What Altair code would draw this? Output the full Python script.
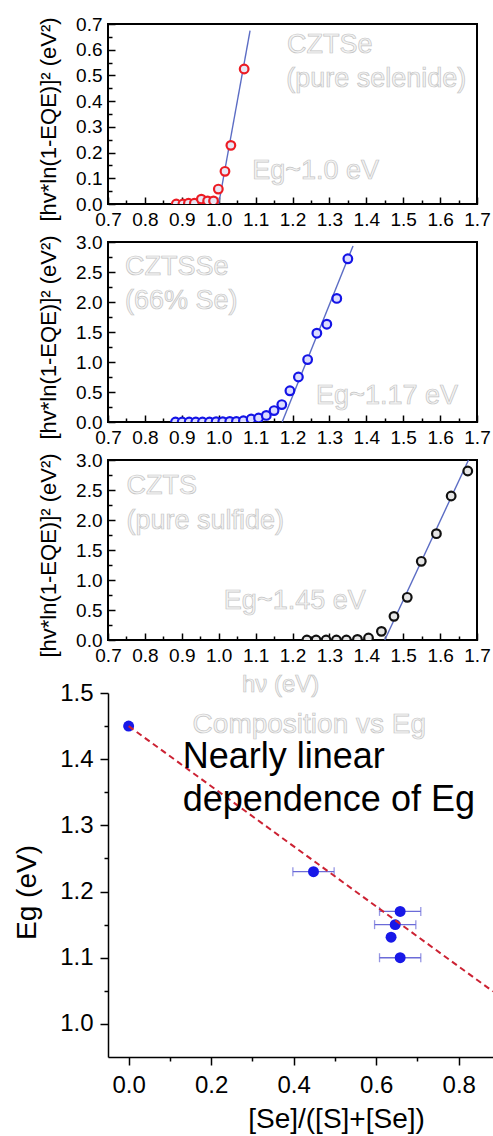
import altair as alt
import pandas as pd

FONT = "Liberation Sans"

# ---------------- data ----------------
# Panel 1: CZTSe (pure selenide)
se_hv = [0.885, 0.903, 0.918, 0.934, 0.953, 0.970, 0.986, 0.999, 1.017, 1.033, 1.069]
se_val = [0.0, 0.0, 0.003, 0.003, 0.019, 0.012, 0.012, 0.058, 0.127, 0.228, 0.525]
se_fit_hv = [1.0, 1.085]
se_fit_val = [0.0, 0.674]

# Panel 2: CZTSSe (66% Se)
ss_hv = [0.883, 0.901, 0.920, 0.938, 0.956, 0.975, 0.993, 1.011, 1.030, 1.048,
         1.067, 1.088, 1.108, 1.129, 1.150, 1.171, 1.193, 1.216, 1.241, 1.266,
         1.293, 1.320, 1.350]
ss_val = [0.0, 0.0, 0.0, 0.0, 0.0, 0.0, 0.005, 0.005, 0.01, 0.01,
          0.02, 0.05, 0.066, 0.11, 0.19, 0.29, 0.52, 0.75, 1.04, 1.48,
          1.63, 2.06, 2.72]
ss_fit_hv = [1.172, 1.364]
ss_fit_val = [0.0, 2.934]

# Panel 3: CZTS (pure sulfide)
s_hv = [1.239, 1.264, 1.291, 1.319, 1.346, 1.376, 1.406, 1.441, 1.475, 1.511,
        1.549, 1.590, 1.630, 1.675]
s_val = [0.0, 0.0, 0.0, 0.0, 0.0, 0.01, 0.033, 0.144, 0.394, 0.711,
         1.311, 1.772, 2.40, 2.817]
s_fit_hv = [1.450, 1.677]
s_fit_val = [0.0, 3.0]

# Panel 4: composition vs Eg
se_frac = [0.0, 0.448, 0.658, 0.646, 0.636, 0.658]
eg_vals = [1.45, 1.23, 1.17, 1.15, 1.131, 1.10]
frac_err = [0.0, 0.05, 0.05, 0.05, 0.0, 0.05]
trend_frac = [0.0, 0.883]
trend_eg = [1.45, 1.049]

# tick values
hv_major = [0.7, 0.8, 0.9, 1.0, 1.1, 1.2, 1.3, 1.4, 1.5, 1.6, 1.7]
hv_minor = [0.75, 0.85, 0.95, 1.05, 1.15, 1.25, 1.35, 1.45, 1.55, 1.65]
y1_major = [0.0, 0.1, 0.2, 0.3, 0.4, 0.5, 0.6, 0.7]
y1_minor = [0.05, 0.15, 0.25, 0.35, 0.45, 0.55, 0.65]
y3_major = [0.0, 0.5, 1.0, 1.5, 2.0, 2.5, 3.0]
y3_minor = [0.25, 0.75, 1.25, 1.75, 2.25, 2.75]
frac_major = [0.0, 0.2, 0.4, 0.6, 0.8]
frac_minor = [0.1, 0.3, 0.5, 0.7]
eg_major = [1.0, 1.1, 1.2, 1.3, 1.4, 1.5]
eg_minor = [1.05, 1.15, 1.25, 1.35, 1.45]

# annotations (text, anchor in data units)
p1_text = ["CZTSe", "(pure selenide)", "Eg~1.0 eV"]
p1_tx = [1.185, 1.183, 1.091]
p1_ty = [0.587, 0.454, 0.097]
p2_text = ["CZTSSe", "(66% Se)", "Eg~1.17 eV"]
p2_tx = [0.746, 0.746, 1.264]
p2_ty = [2.447, 1.883, 0.307]
p3_text = ["CZTS", "(pure sulfide)", "Eg~1.45 eV"]
p3_tx = [0.750, 0.750, 1.014]
p3_ty = [2.428, 1.857, 0.523]
hv_title = ["hν (eV)"]
hv_tx = [1.063]
hv_ty = [-0.867]
p4_text = ["Composition vs Eg"]
p4_tx = [0.155]
p4_ty = [1.4395]
p4_note = ["Nearly linear", "dependence of Eg"]
p4_nx = [0.131, 0.131]
p4_ny = [1.387, 1.3222]

YTITLE = "[hv*ln(1-EQE)]² (eV²)"
PW, PH = 369, 180
GRAY_FILL = "#f4f4f4"
GRAY_STROKE = "#c4c4c4"
GRAY_W = 0.7


def gray_text(df, xs, ys, size):
    return alt.Chart(df).mark_text(
        align="left", baseline="alphabetic", fontSize=size, font=FONT,
        fill=GRAY_FILL, stroke=GRAY_STROKE, strokeWidth=GRAY_W
    ).encode(x=alt.X("x:Q", scale=xs, axis=None),
             y=alt.Y("y:Q", scale=ys, axis=None),
             text="t:N")


def spectrum_panel(hv, val, fit_hv, fit_val, stroke, fill, ymax, ymaj, ymin,
                   texts, tx, ty, extra=None):
    pts = pd.DataFrame({"hv": hv, "v": val})
    fit = pd.DataFrame({"hv": fit_hv, "v": fit_val})
    ann = pd.DataFrame({"x": tx, "y": ty, "t": texts})
    xs = alt.Scale(domain=[0.7, 1.7], nice=False, zero=False)
    ys = alt.Scale(domain=[0, ymax], nice=False, zero=False)

    x_major = alt.Axis(orient="bottom", values=hv_major, format=".1f", title=None,
                       grid=False, domain=False, tickSize=alt.ExprRef("-7"),
                       tickWidth=1.5, labelFontSize=19, labelPadding=13,
                       labelFlush=False)
    y_major = alt.Axis(orient="left", values=ymaj, format=".1f", title=YTITLE,
                       grid=False, domain=False, tickSize=alt.ExprRef("-7"),
                       tickWidth=1.5, labelFontSize=19, labelPadding=13,
                       titleFontSize=22, titleFontWeight="normal", titlePadding=15,
                       titleY=95, labelFlush=False)
    x_minor = alt.Axis(orient="bottom", values=hv_minor, labels=False, title=None,
                       grid=False, domain=False, tickSize=alt.ExprRef("-4"),
                       tickWidth=1.5)
    y_minor = alt.Axis(orient="left", values=ymin, labels=False, title=None,
                       grid=False, domain=False, tickSize=alt.ExprRef("-4"),
                       tickWidth=1.5)

    points = alt.Chart(pts).mark_point(
        shape="circle", filled=True, fill=fill, stroke=stroke, strokeWidth=2.2,
        size=75, opacity=1, clip=True
    ).encode(x=alt.X("hv:Q", scale=xs, axis=x_major),
             y=alt.Y("v:Q", scale=ys, axis=y_major))
    line = alt.Chart(fit).mark_line(color="#5b6cc4", strokeWidth=1.4).encode(
        x=alt.X("hv:Q", scale=xs, axis=x_minor),
        y=alt.Y("v:Q", scale=ys, axis=y_minor))
    layers = [line, points, gray_text(ann, xs, ys, 27)]
    if extra is not None:
        layers.append(gray_text(extra, xs, ys, 24))
    return alt.layer(*layers).resolve_axis(
        x="independent", y="independent").properties(width=PW, height=PH)


p1 = spectrum_panel(se_hv, se_val, se_fit_hv, se_fit_val, "#ec1c24", "#e8e8f6",
                    0.7, y1_major, y1_minor, p1_text, p1_tx, p1_ty)
p2 = spectrum_panel(ss_hv, ss_val, ss_fit_hv, ss_fit_val, "#1414e6", "#dcdcff",
                    3.0, y3_major, y3_minor, p2_text, p2_tx, p2_ty)
p3 = spectrum_panel(s_hv, s_val, s_fit_hv, s_fit_val, "#111111", "#e6e6e6",
                    3.0, y3_major, y3_minor, p3_text, p3_tx, p3_ty,
                    extra=pd.DataFrame({"x": hv_tx, "y": hv_ty, "t": hv_title}))

# ---------------- panel 4 ----------------
pts4 = pd.DataFrame({"frac": se_frac, "eg": eg_vals, "err": frac_err})
err4 = pts4[pts4["err"] > 0].copy()
err4["lo"] = err4["frac"] - err4["err"]
err4["hi"] = err4["frac"] + err4["err"]
trend = pd.DataFrame({"frac": trend_frac, "eg": trend_eg})
ann4 = pd.DataFrame({"x": p4_tx, "y": p4_ty, "t": p4_text})
note4 = pd.DataFrame({"frac": p4_nx, "eg": p4_ny, "t": p4_note})

H4 = 379
W4 = 385
xs4 = alt.Scale(domain=[-0.05, 0.883], nice=False, zero=False)
ys4 = alt.Scale(domain=[0.95, 1.5], nice=False, zero=False, range=[H4, 15])

x4_major = alt.Axis(orient="bottom", values=frac_major, format=".1f",
                    title="[Se]/([S]+[Se])", titleFontSize=28, titleFontWeight="normal",
                    titleX=228, titlePadding=8, tickSize=8, tickWidth=1.5, grid=False,
                    domainWidth=1.5, labelFontSize=24, labelPadding=8, labelFlush=False)
y4_major = alt.Axis(orient="left", values=eg_major, format=".1f",
                    title="Eg (eV)", titleFontSize=28, titleFontWeight="normal",
                    titlePadding=18, titleY=214, tickSize=8, tickWidth=1.5,
                    domainWidth=1.5, grid=False, labelFontSize=24, labelPadding=7,
                    labelFlush=False)
x4_minor = alt.Axis(orient="bottom", values=frac_minor, labels=False, title=None,
                    grid=False, domain=False, tickSize=4, tickWidth=1.5)
y4_minor = alt.Axis(orient="left", values=eg_minor, labels=False, title=None,
                    grid=False, domain=False, tickSize=4, tickWidth=1.5)

bars = alt.Chart(err4).mark_rule(color="#6b6bd8", strokeWidth=1.3).encode(
    x=alt.X("lo:Q", scale=xs4, axis=x4_minor), x2="hi:Q",
    y=alt.Y("eg:Q", scale=ys4, axis=y4_minor))
caps_lo = alt.Chart(err4).mark_tick(color="#6b6bd8", orient="vertical",
                                    thickness=1.3, size=9).encode(
    x=alt.X("lo:Q", scale=xs4, axis=None), y=alt.Y("eg:Q", scale=ys4, axis=None))
caps_hi = alt.Chart(err4).mark_tick(color="#6b6bd8", orient="vertical",
                                    thickness=1.3, size=9).encode(
    x=alt.X("hi:Q", scale=xs4, axis=None), y=alt.Y("eg:Q", scale=ys4, axis=None))
dots = alt.Chart(pts4).mark_circle(color="#1818e8", size=120, opacity=1).encode(
    x=alt.X("frac:Q", scale=xs4, axis=x4_major),
    y=alt.Y("eg:Q", scale=ys4, axis=y4_major))
dash = alt.Chart(trend).mark_line(color="#cc2233", strokeWidth=2,
                                  strokeDash=[6, 4]).encode(
    x=alt.X("frac:Q", scale=xs4, axis=None), y=alt.Y("eg:Q", scale=ys4, axis=None))
gray4 = gray_text(ann4, xs4, ys4, 28)
note = alt.Chart(note4).mark_text(
    align="left", baseline="alphabetic", fontSize=36, font=FONT, color="black"
).encode(x=alt.X("frac:Q", scale=xs4, axis=None),
         y=alt.Y("eg:Q", scale=ys4, axis=None), text="t:N")

p4 = alt.layer(bars, caps_lo, caps_hi, dots, dash, gray4, note).resolve_axis(
    x="independent", y="independent").properties(
    width=W4, height=H4, view=alt.ViewBackground(stroke="transparent"))

chart = alt.vconcat(p1, p2, p3, p4, spacing=38, bounds="flush").properties(
    autosize=alt.AutoSizeParams(type="none"),
    padding={"left": 108, "top": 24, "right": 385, "bottom": 1112},
    background="white"
).configure_view(stroke="black", strokeWidth=2).configure_axis(
    grid=False, labelFont=FONT, titleFont=FONT, labelColor="black",
    titleColor="black", tickColor="black", domainColor="black"
)

chart.save("out.html", embed_options={"renderer": "svg", "actions": False})
